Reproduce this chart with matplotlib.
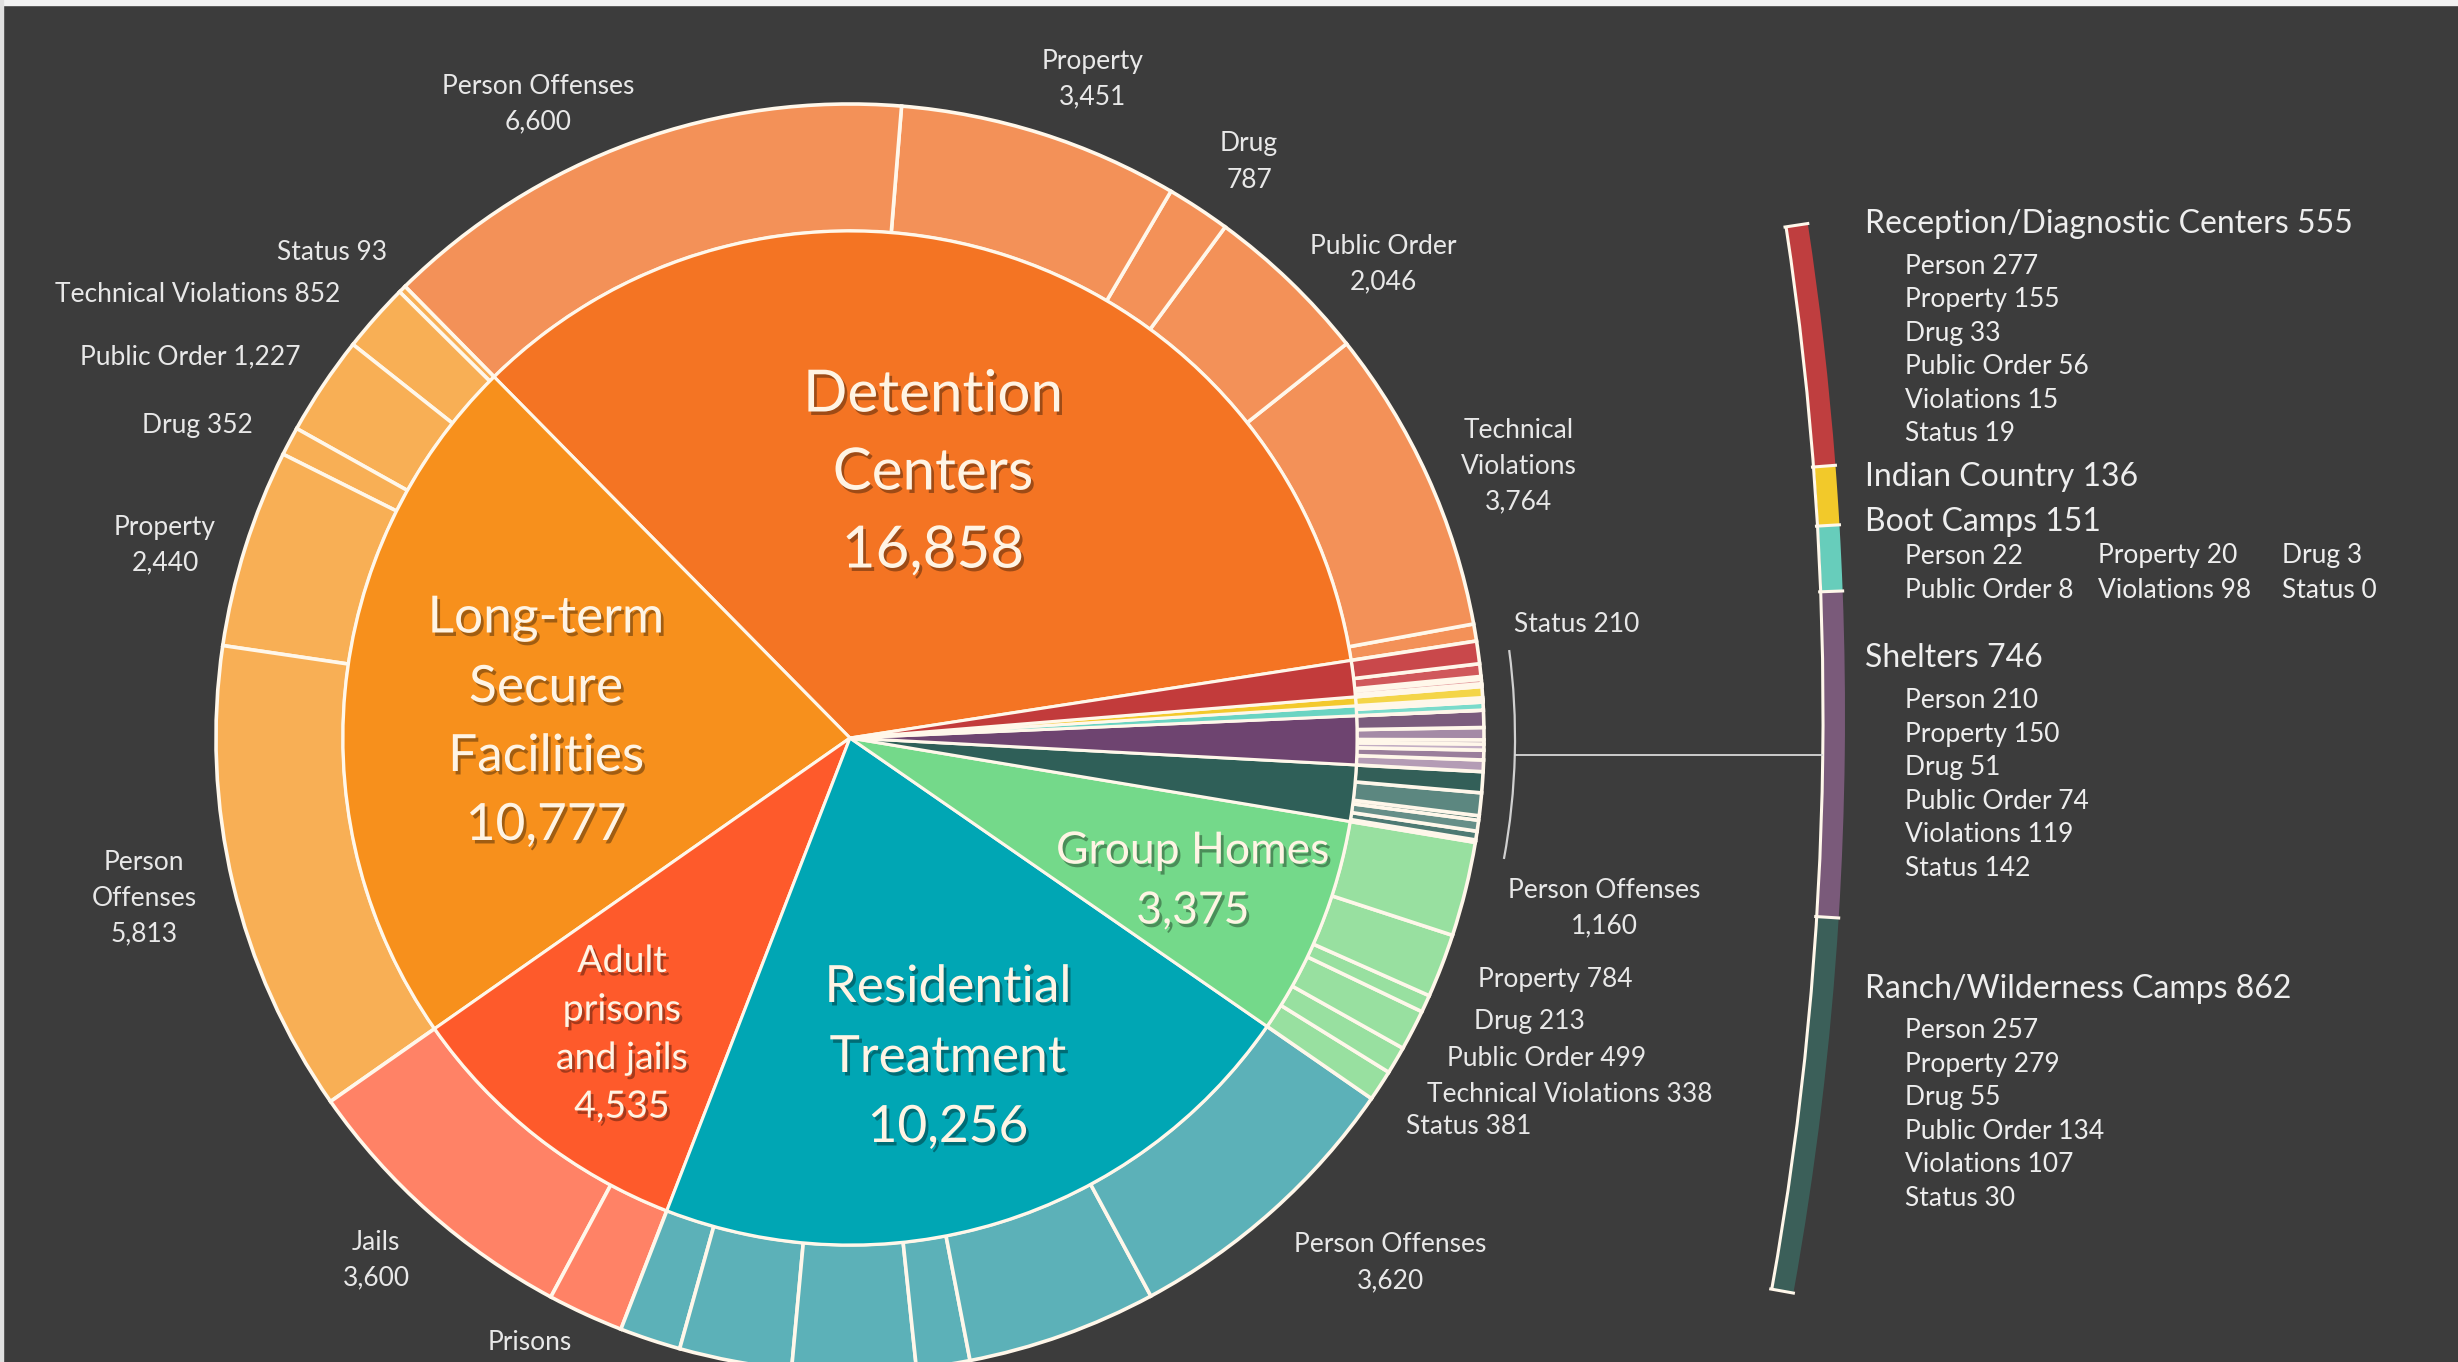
import numpy as np
import matplotlib
matplotlib.use('Agg')
import matplotlib.pyplot as plt
from matplotlib.patches import Wedge, Arc, Rectangle
import matplotlib.patheffects as pe

W, H = 2458, 1362

# inner ring, counter-clockwise starting just above 3 o'clock
facilities = ['Detention Centers', 'Long-term Secure Facilities', 'Adult prisons and jails',
              'Residential Treatment', 'Group Homes', 'Ranch/Wilderness Camps', 'Shelters',
              'Boot Camps', 'Indian Country', 'Reception/Diagnostic Centers']
facility_counts = [16858, 10777, 4535, 10256, 3375, 862, 746, 151, 136, 555]
inner_colors = ['#F47423', '#F7901C', '#FE5A2B', '#00A6B4', '#74D98A',
                '#2F5F58', '#6E4470', '#6AD4C2', '#F3C92C', '#C23B3B']

# offense breakdown for the big facilities (counter-clockwise order)
offense_names = ['Status', 'Technical Violations', 'Public Order', 'Drug', 'Property', 'Person Offenses']
detention_counts = [210, 3764, 2046, 787, 3451, 6600]
longterm_counts = [93, 852, 1227, 352, 2440, 5813]
adult_names = ['Jails', 'Prisons']
adult_counts = [3600, 935]
residential_counts = [750, 1380, 1515, 657, 2334, 3620]
group_counts = [381, 338, 499, 213, 784, 1160]

# small facilities, listed as in the side panel
small_sub_names = ['Person', 'Property', 'Drug', 'Public Order', 'Violations', 'Status']
reception_sub = [277, 155, 33, 56, 15, 19]
indian_sub = [136]
boot_sub = [22, 20, 3, 8, 98, 0]
shelter_sub = [210, 150, 51, 74, 119, 142]
ranch_sub = [257, 279, 55, 134, 107, 30]

outer_counts = (detention_counts + longterm_counts + adult_counts + residential_counts
                + group_counts + ranch_sub[::-1] + shelter_sub[::-1] + boot_sub[::-1]
                + indian_sub + reception_sub[::-1])
outer_colors = (['#F39158'] * 6 + ['#F8AF55'] * 6 + ['#FF8266'] * 2 + ['#5CB1B8'] * 6
                + ['#98E0A0'] * 6
                + ['#3A655E', '#4E7A73', '#668F88', '#3F6B64', '#5C8780', '#335F58']
                + ['#B49CB5', '#9A7E9B', '#C3AEC4', '#8A6C8C', '#A48AA6', '#7B5C7D']
                + ['#8FE3D5', '#7ADBCB', '#9FE6DA', '#86DDD0', '#7ADBCB', '#8FE3D5']
                + ['#F4D548']
                + ['#F0C4C5', '#EBB5B6', '#E5A0A2', '#E08E90', '#D0585B', '#C9484B'])

bg = '#3C3C3C'
edge = '#FFF7EA'
font = ['Lato', 'DejaVu Sans']

fig = plt.figure(figsize=(W / 100, H / 100), dpi=100, facecolor=bg)
ax = fig.add_axes([0, 0, 1, 1])
ax.set_facecolor(bg)

cx, cy = 850, H - 738
r_in, r_out = 507, 634
start = 8.8

ax.pie(outer_counts, radius=r_out, center=(cx, cy), startangle=start, counterclock=True,
       colors=outer_colors, wedgeprops=dict(width=r_out - r_in, edgecolor=edge, linewidth=2.6))
ax.pie(facility_counts, radius=r_in, center=(cx, cy), startangle=start, counterclock=True,
       colors=inner_colors, wedgeprops=dict(edgecolor=edge, linewidth=2.2))

# bracket around the small facilities and connector to the side panel
total = sum(facility_counts)
small_start = start + 360 * sum(facility_counts[:5]) / total - 360
small_end = start
b1, b2 = small_start - 1.0, small_end - 1.2
r_br = 665
ax.add_patch(Arc((cx, cy), 2 * r_br, 2 * r_br, theta1=b1, theta2=b2, color='#D0D0D0', lw=1.6))
mid = np.radians((b1 + b2) / 2)
y_con = cy + r_br * np.sin(mid)

# side arc, segments proportional to the small facilities
R_big = 3240
bcx, bcy = 1822 - R_big, H - 715
a_top = np.degrees(np.arcsin((715 - 227) / R_big))
a_bot = np.degrees(np.arcsin((715 - 1289) / R_big))
side_names = facilities[5:][::-1]
side_counts = facility_counts[5:][::-1]
side_colors = ['#BF3E3F', '#F2C92A', '#67CDBB', '#7A5A7A', '#3B5F59']
bounds = a_top - (a_top - a_bot) * np.concatenate([[0], np.cumsum(side_counts)]) / sum(side_counts)
for i, c in enumerate(side_colors):
    ax.add_patch(Wedge((bcx, bcy), R_big + 23, bounds[i + 1], bounds[i], width=21, facecolor=c, edgecolor='none'))
ax.add_patch(Arc((bcx, bcy), 2 * (R_big + 1), 2 * (R_big + 1), theta1=a_bot, theta2=a_top, color=edge, lw=2.2))
for b in bounds:
    t = np.radians(b)
    ax.plot([bcx + R_big * np.cos(t), bcx + (R_big + 23) * np.cos(t)],
            [bcy + R_big * np.sin(t), bcy + (R_big + 23) * np.sin(t)], color=edge, lw=2.2)
x_con_end = bcx + R_big * np.cos(np.arcsin((y_con - bcy) / R_big))
ax.plot([cx + r_br * np.cos(mid), x_con_end], [y_con, y_con], color='#D8D8D8', lw=1.3)

# thin light frame at the top and left of the original screenshot
ax.add_patch(Rectangle((0, H - 5), W, 5, color='#F2F2F2'))
ax.add_patch(Rectangle((0, 0), 3, H, color='#E0E0E0'))

ax.set_xlim(0, W)
ax.set_ylim(0, H)
ax.set_aspect('equal')
ax.axis('off')

shadow = [pe.withSimplePatchShadow(offset=(2, -2.5), shadow_rgbFace='#000000', alpha=0.35)]


def lines(txt_lines, x, y0, dy, size, ha='center', color='#E8E8E8', fx=None):
    for k, t in enumerate(txt_lines):
        ax.text(x, H - (y0 + k * dy), t, ha=ha, va='center', color=color,
                fontsize=size, family=font, path_effects=fx)


def fmt(v):
    return f'{v:,}'


# inner labels
cream = '#FFF4E4'
lines(['Detention', 'Centers', fmt(facility_counts[0])], 933, 395, 78, 42, color=cream, fx=shadow)
lines(['Long-term', 'Secure', 'Facilities', fmt(facility_counts[1])], 546, 619, 69, 37, color=cream, fx=shadow)
lines(['Adult', 'prisons', 'and jails', fmt(facility_counts[2])], 622, 961, 48.5, 27, color=cream, fx=shadow)
lines(['Residential', 'Treatment', fmt(facility_counts[3])], 948, 988, 70, 37, color=cream, fx=shadow)
lines(['Group Homes', fmt(facility_counts[4])], 1193, 851, 60, 32, color=cream, fx=shadow)

# outer labels: detention
osz = 19
lines(['Person Offenses', fmt(detention_counts[5])], 538, 86, 36, osz)
lines(['Property', fmt(detention_counts[4])], 1093, 61, 36, osz)
lines(['Drug', fmt(detention_counts[3])], 1249, 144, 36, osz)
lines(['Public Order', fmt(detention_counts[2])], 1383, 246, 36, osz)
lines(['Technical', 'Violations', fmt(detention_counts[1])], 1519, 430, 36, osz)
lines([f'Status {fmt(detention_counts[0])}'], 1514, 624, 36, osz, ha='left')

# long-term
lines([f'Status {fmt(longterm_counts[0])}'], 387, 252, 36, osz, ha='right')
lines([f'Technical Violations {fmt(longterm_counts[1])}'], 340, 295, 36, osz, ha='right')
lines([f'Public Order {fmt(longterm_counts[2])}'], 301, 357, 36, osz, ha='right')
lines([f'Drug {fmt(longterm_counts[3])}'], 253, 425, 36, osz, ha='right')
lines(['Property', fmt(longterm_counts[4])], 165, 527, 36, osz)
lines(['Person', 'Offenses', fmt(longterm_counts[5])], 144, 862, 36, osz)

# adult (the prisons count falls below the frame in the original)
lines([adult_names[0], fmt(adult_counts[0])], 376, 1242, 36, osz)
lines([adult_names[1]], 530, 1343, 36, osz)

# residential
lines(['Person Offenses', fmt(residential_counts[5])], 1390, 1245, 36, osz)

# group homes
lines(['Person Offenses', fmt(group_counts[5])], 1604, 890, 36, osz)
lines([f'Property {group_counts[4]}'], 1478, 980, 36, osz, ha='left')
lines([f'Drug {group_counts[3]}'], 1474, 1022, 36, osz, ha='left')
lines([f'Public Order {group_counts[2]}'], 1447, 1058, 36, osz, ha='left')
lines([f'Technical Violations {group_counts[1]}'], 1427, 1094, 36, osz, ha='left')
lines([f'Status {group_counts[0]}'], 1406, 1127, 36, osz, ha='left')

# side panel
hx, sx = 1865, 1905
hsz, ssz = 23, 19
sub_dy = 33.5
panel_text = '#EEEEEE'
lines([f'{side_names[0]} {side_counts[0]}'], hx, 224, 0, hsz, ha='left', color=panel_text)
lines([f'{n} {v}' for n, v in zip(small_sub_names, reception_sub)], sx, 266, sub_dy, ssz, ha='left', color=panel_text)
lines([f'{side_names[1]} {side_counts[1]}'], hx, 477, 0, hsz, ha='left', color=panel_text)
lines([f'{side_names[2]} {side_counts[2]}'], hx, 522, 0, hsz, ha='left', color=panel_text)
for k, (n, v) in enumerate(zip(small_sub_names, boot_sub)):
    col, row = k % 3, k // 3
    lines([f'{n} {v}'], [sx, 2098, 2282][col], 556 + row * 35, 0, ssz, ha='left', color=panel_text)
lines([f'{side_names[3]} {side_counts[3]}'], hx, 658, 0, hsz, ha='left', color=panel_text)
lines([f'{n} {v}' for n, v in zip(small_sub_names, shelter_sub)], sx, 701, sub_dy, ssz, ha='left', color=panel_text)
lines([f'{side_names[4]} {side_counts[4]}'], hx, 989, 0, hsz, ha='left', color=panel_text)
lines([f'{n} {v}' for n, v in zip(small_sub_names, ranch_sub)], sx, 1031, sub_dy, ssz, ha='left', color=panel_text)

fig.savefig('out.png', dpi=100, facecolor=bg)
